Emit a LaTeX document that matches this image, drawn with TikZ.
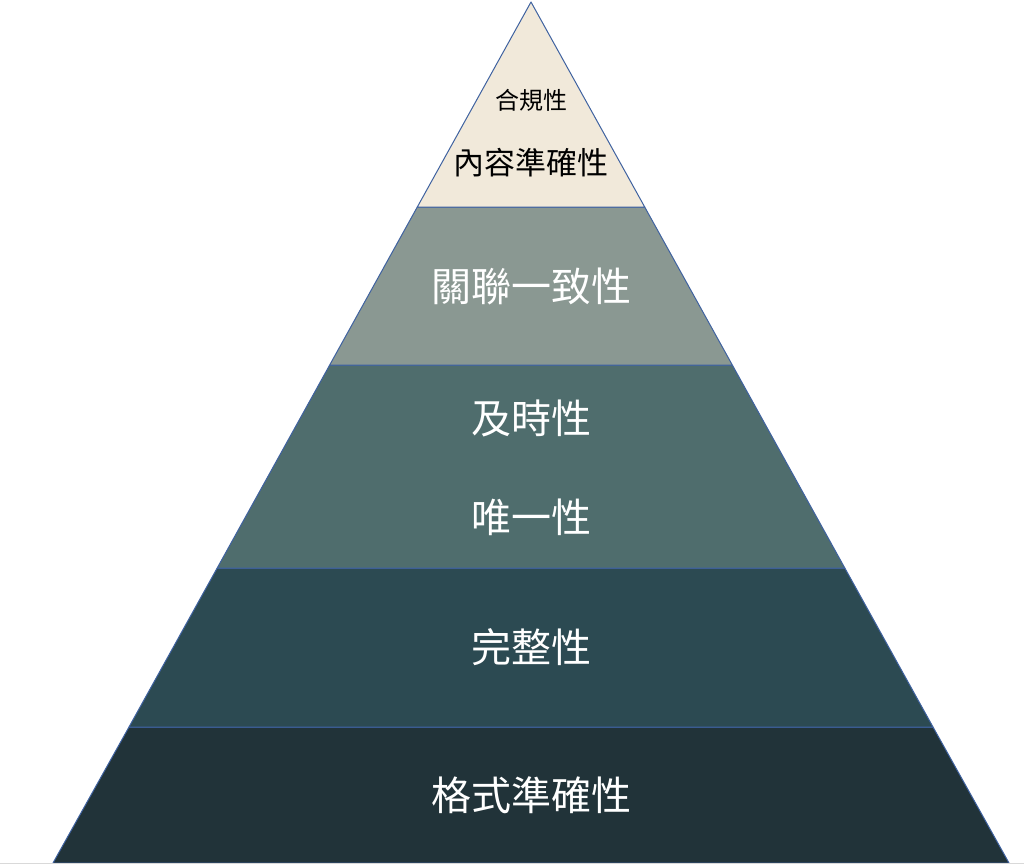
\documentclass[tikz,border=0pt]{standalone}
\usepackage{fontspec}
\newfontfamily\cjk{Noto Sans CJK TC}
\definecolor{cTop}{HTML}{F1E9DA}
\definecolor{cTwo}{HTML}{8A9892}
\definecolor{cThree}{HTML}{4F6D6D}
\definecolor{cFour}{HTML}{2C4A52}
\definecolor{cFive}{HTML}{213339}
\definecolor{edge}{HTML}{3F62A0}
\begin{document}
\begin{tikzpicture}[x=1pt,y=-1pt,
  layer/.style={draw=edge,line width=1pt,line join=round},
  lbl/.style={font=\cjk,inner sep=0pt,text=white}]
\useasboundingbox (0,0) rectangle (1024,864);
\fill[white] (0,0) rectangle (1024,864);
\filldraw[layer,fill=cFive] (129.0,727) -- (933.0,727) -- (1009,863) -- (53,863) -- cycle;
\filldraw[layer,fill=cFour] (217.2,568) -- (844.8,568) -- (933.0,727) -- (129.0,727) -- cycle;
\filldraw[layer,fill=cThree] (329.7,365) -- (732.3,365) -- (844.8,568) -- (217.2,568) -- cycle;
\filldraw[layer,fill=cTwo] (417.3,207) -- (644.7,207) -- (732.3,365) -- (329.7,365) -- cycle;
\filldraw[layer,fill=cTop] (531,2) -- (644.7,207) -- (417.3,207) -- cycle;
\draw[black!15,line width=1pt] (0,863.5) -- (1024,863.5);
\node[lbl,text=black,font=\cjk\fontsize{24}{28}\selectfont] (t1) at (531,100) {合規性};
\node[lbl,text=black,font=\cjk\fontsize{31}{36}\selectfont] (t2) at (531,163) {內容準確性};
\node[lbl,font=\cjk\fontsize{40}{46}\selectfont] (t3) at (531,286) {關聯一致性};
\node[lbl,font=\cjk\fontsize{40}{46}\selectfont] (t4) at (531,418) {及時性};
\node[lbl,font=\cjk\fontsize{40}{46}\selectfont] (t5) at (531,517) {唯一性};
\node[lbl,font=\cjk\fontsize{40}{46}\selectfont] (t6) at (531,647) {完整性};
\node[lbl,font=\cjk\fontsize{40}{46}\selectfont] (t7) at (531,795) {格式準確性};
\end{tikzpicture}
\end{document}
